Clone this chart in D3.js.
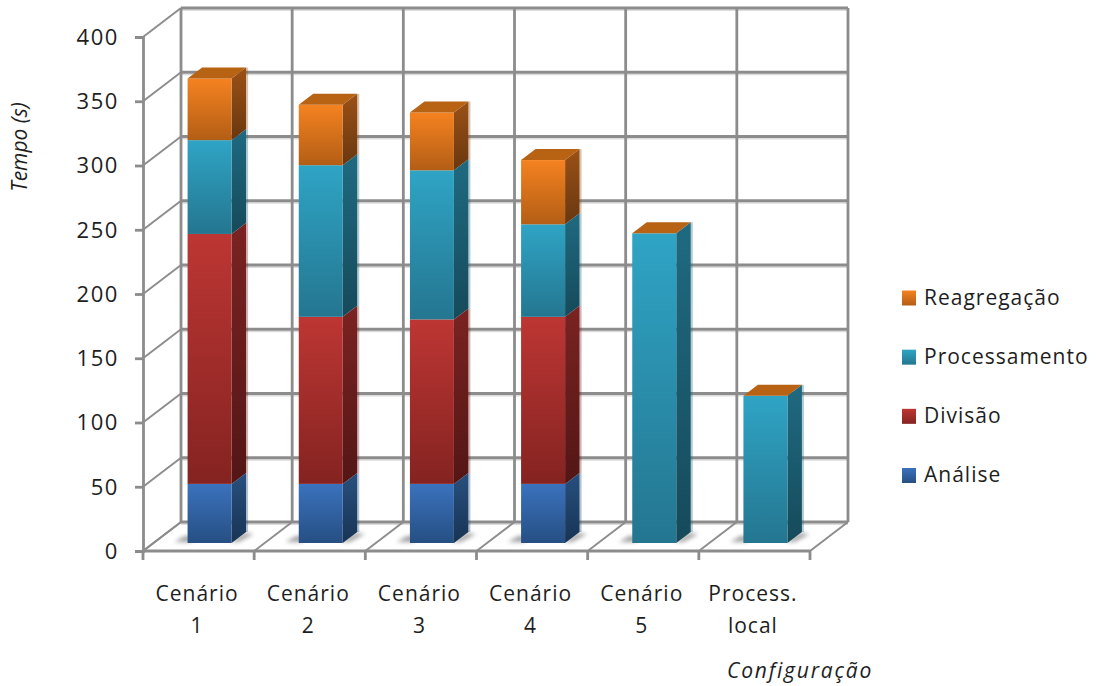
<!DOCTYPE html>
<html lang="pt">
<head>
<meta charset="utf-8">
<title>Tempo por configuração</title>
<script src="https://cdn.jsdelivr.net/npm/d3@7"></script>
<style>
  html, body { margin: 0; background: #fff; }
  svg { display: block; }
  text { font-family: "Open Sans", "Noto Sans", sans-serif; font-size: 21px; fill: #1e1e1e; letter-spacing: 1px; }
</style>
</head>
<body>
<svg id="chart" width="1096" height="686"></svg>
<script>
// Stacked time per configuration, in seconds
const categories = [["Cenário", "1"], ["Cenário", "2"], ["Cenário", "3"], ["Cenário", "4"], ["Cenário", "5"], ["Process.", "local"]];
const seriesNames = ["Análise", "Divisão", "Processamento", "Reagregação"];
const analise       = [46, 46, 46, 46, 0, 0];
const divisao       = [194.5, 130, 128, 130, 0, 0];
const processamento = [73, 118, 116, 72, 241, 114.5];
const reagregacao   = [48, 47, 45, 50, 0, 0];
const yTicks = [0, 50, 100, 150, 200, 250, 300, 350, 400];

const columns = [analise, divisao, processamento, reagregacao];
const rows = categories.map((c, i) => {
  const row = { index: i };
  seriesNames.forEach((s, k) => { row[s] = columns[k][i]; });
  return row;
});

// Colour ramps for each series: front face and side face, top to bottom
const palette = {
  "Análise":       { front: ["#3a72bd", "#264f83"], side: ["#27507f", "#183454"] },
  "Divisão":       { front: ["#bd3633", "#842321"], side: ["#7a2322", "#531615"] },
  "Processamento": { front: ["#2fa4c5", "#247690"], side: ["#1f6a81", "#164a5a"] },
  "Reagregação":   { front: ["#f58220", "#b35e15"], side: ["#9b5116", "#693710"] }
};
const capColour = "#b86214";
const gridColour = "#8c8c8c";

const svg = d3.select("#chart");
const defs = svg.append("defs");
function ramp(id, [a, b]) {
  const g = defs.append("linearGradient").attr("id", id).attr("x1", 0).attr("y1", 0).attr("x2", 0).attr("y2", 1);
  g.append("stop").attr("offset", "0%").attr("stop-color", a);
  g.append("stop").attr("offset", "100%").attr("stop-color", b);
}
seriesNames.forEach((s, k) => {
  ramp(`front${k}`, palette[s].front);
  ramp(`side${k}`, palette[s].side);
});
defs.append("filter").attr("id", "soft").attr("x", "-30%").attr("width", "160%").attr("y", "-60%").attr("height", "220%")
  .append("feGaussianBlur").attr("stdDeviation", 2);

// Front plane of the box; the back wall sits one depth step behind it
const x = d3.scaleBand().domain(d3.range(categories.length)).range([143, 810]).paddingInner(0).paddingOuter(0);
const y = d3.scaleLinear().domain([0, 400]).range([551, 37]);
const wallDx = 38, wallDy = -29;      // front plane to back wall
const barDx = 11, barDy = -8;         // front plane to front face of the bars
const capDx = 14.5, capDy = -11;      // depth of each bar
const barWidth = 44;

const pts = a => a.map(p => p.join(",")).join(" ");
const grid = svg.append("g").attr("fill", "none").attr("stroke", gridColour);
const xEdges = d3.range(categories.length).map(i => x(i)).concat(x.range()[1]);

// Back wall: horizontal rules
yTicks.forEach(v => {
  const yy = y(v) + wallDy;
  grid.append("line").attr("x1", 143 + wallDx).attr("x2", 810 + wallDx).attr("y1", yy + 2.2).attr("y2", yy + 2.2)
    .attr("stroke", "#dcdcdc").attr("stroke-width", 1.6);
  grid.append("line").attr("x1", 143 + wallDx).attr("x2", 810 + wallDx).attr("y1", yy).attr("y2", yy)
    .attr("stroke-width", 2.8);
});
// Back wall: vertical rules
xEdges.forEach(xx => {
  grid.append("line").attr("x1", xx + wallDx).attr("x2", xx + wallDx)
    .attr("y1", y(400) + wallDy).attr("y2", y(0) + wallDy).attr("stroke-width", 2.8);
});
// Left wall and floor diagonals
yTicks.forEach(v => {
  grid.append("line").attr("x1", 143).attr("y1", y(v)).attr("x2", 143 + wallDx).attr("y2", y(v) + wallDy)
    .attr("stroke-width", 1.9);
});
xEdges.forEach(xx => {
  grid.append("line").attr("x1", xx).attr("y1", y(0)).attr("x2", xx + wallDx).attr("y2", y(0) + wallDy)
    .attr("stroke-width", 1.9);
});

// Axes on the front plane
const yAxis = d3.axisLeft(y).tickValues(yTicks).tickSize(8).tickPadding(16);
const axisY = svg.append("g").attr("transform", "translate(143,0)").call(yAxis);
axisY.selectAll("path, line").attr("stroke", gridColour).attr("stroke-width", 2.8);
axisY.selectAll("text").style("font-size", "22px").style("letter-spacing", "1.6px").attr("dy", "0.33em");

const axisX = svg.append("g").attr("transform", `translate(0,${y(0)})`);
axisX.append("line").attr("x1", 143).attr("x2", 810).attr("stroke", gridColour).attr("stroke-width", 2.8);
xEdges.forEach(xx => {
  axisX.append("line").attr("x1", xx).attr("x2", xx).attr("y1", 0).attr("y2", 9)
    .attr("stroke", gridColour).attr("stroke-width", 2.8);
});

categories.forEach((lines, i) => {
  const label = svg.append("text").attr("text-anchor", "middle");
  lines.forEach((t, j) => {
    label.append("tspan").attr("x", x(i) + x.bandwidth() / 2 - 1.5).attr("y", 601 + j * 32).text(t);
  });
});

// Bars, left to right, stacked bottom to top
const stacked = d3.stack().keys(seriesNames)(rows);
const barLeft = i => x(i) + (x.bandwidth() - barWidth) / 2 + barDx;

// Contact shadows on the floor, either side of each bar
const shadows = svg.append("g").attr("filter", "url(#soft)").attr("fill", "#7a7a7a").attr("opacity", 0.7);
rows.forEach(r => {
  const l = barLeft(r.index), rr = l + barWidth, b = y(0) + barDy;
  shadows.append("polygon").attr("points", pts([[l - 13, b - 1], [l - 3, b - 7], [l + 4, b - 7], [l + 4, b - 1]]));
  shadows.append("polygon").attr("points", pts([[rr - 2, b - 1], [rr + 13, b - 10], [rr + 22, b - 9], [rr + 7, b - 1]]));
});

const bars = svg.append("g");
rows.forEach(r => {
  const i = r.index, l = barLeft(i), rr = l + barWidth;
  stacked.forEach((layer, k) => {
    const [v0, v1] = layer[i];
    const top = y(v1) + barDy, bottom = y(v0) + barDy;
    if (v1 > v0) {
      // pale fringe along the back edge of the side face
      bars.append("polygon").attr("fill", palette[seriesNames[k]].side[0]).attr("opacity", 0.35)
        .attr("points", pts([[rr + capDx, top + capDy], [rr + capDx + 2, top + capDy], [rr + capDx + 2, bottom + capDy], [rr + capDx, bottom + capDy]]));
      bars.append("polygon").attr("fill", `url(#side${k})`)
        .attr("points", pts([[rr, top], [rr + capDx, top + capDy], [rr + capDx, bottom + capDy], [rr, bottom]]));
      bars.append("rect").attr("x", l).attr("width", barWidth).attr("y", top).attr("height", bottom - top)
        .attr("fill", `url(#front${k})`);
    }
    if (k === stacked.length - 1) {
      bars.append("polygon").attr("fill", capColour)
        .attr("points", pts([[l, top], [l + capDx, top + capDy], [rr + capDx, top + capDy], [rr, top]]));
    }
  });
});

// Legend, listed top to bottom in reverse stacking order
const legendRows = [...seriesNames].reverse();
const legendY = d3.scalePoint().domain(legendRows).range([297.5, 475]);
legendRows.forEach(name => {
  const k = seriesNames.indexOf(name);
  svg.append("rect").attr("x", 902).attr("y", legendY(name) - 7).attr("width", 14).attr("height", 15)
    .attr("fill", `url(#front${k})`);
  svg.append("text").attr("x", 924).attr("y", legendY(name) + 7).text(name);
});

// Axis titles
svg.append("text").attr("transform", "translate(27,147) rotate(-90)").attr("text-anchor", "middle")
  .attr("font-style", "italic").style("letter-spacing", "0px").text("Tempo (s)");
svg.append("text").attr("x", 727).attr("y", 678).attr("font-style", "italic").style("letter-spacing", "1.8px").text("Configuração");
</script>
</body>
</html>
